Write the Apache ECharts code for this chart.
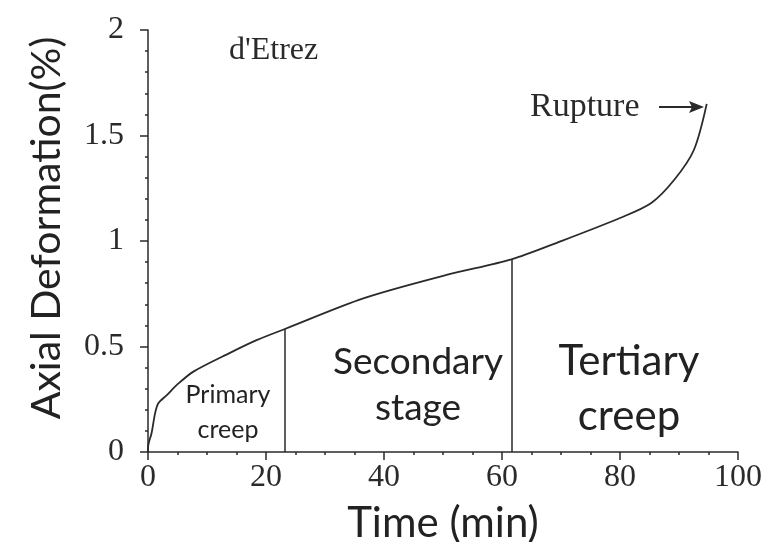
<!DOCTYPE html>
<html>
<head>
<meta charset="utf-8">
<script src="https://cdn.jsdelivr.net/npm/echarts@6/dist/echarts.min.js"></script>
<style>
  html, body { margin: 0; padding: 0; background: #fff; }
  #creep { width: 768px; height: 542px; }
</style>
</head>
<body>
<div id="creep"></div>
<script>
// creep curve
const timeMin = [0, 0.05, 0.6, 1.2, 1.75, 3.2, 4.9, 7.7, 13.9, 18.4, 23.2, 36.5, 50.6, 61.6, 69.8, 80, 85.3, 89.2, 92.5, 94.7]
const deformPct = [0, 0.033, 0.089, 0.183, 0.231, 0.27, 0.318, 0.381, 0.47, 0.53, 0.583, 0.728, 0.839, 0.913, 0.997, 1.109, 1.18, 1.29, 1.43, 1.65]
// stage boundaries (time, height where the divider meets the curve)
const stageTime = [23.2, 61.6]
const stageTop = [0.583, 0.913]
const xTicks = [0, 20, 40, 60, 80, 100]
const yTicks = [0, 0.5, 1, 1.5, 2]

const serif = '"Liberation Serif", "DejaVu Serif", serif'
const sans = 'Lato, "Open Sans", sans-serif'
const ink = '#2a2a2a'

const chart = echarts.init(document.getElementById('creep'))

const axisCommon = {
  axisLine: { show: true, onZero: false, lineStyle: { color: ink, width: 1.5 } },
  axisTick: { show: true, inside: false, length: 8, lineStyle: { color: ink, width: 1.5 } },
  minorTick: { show: true, length: 3, lineStyle: { color: ink, width: 1.5 } },
  splitLine: { show: false },
  minorSplitLine: { show: false }
}

const option = {
  backgroundColor: '#fff',
  animation: false,
  grid: { left: 148, right: 30, top: 30, bottom: 90, outerBoundsMode: 'none', containLabel: false },
  xAxis: {
    type: 'value',
    min: xTicks[0],
    max: xTicks[xTicks.length - 1],
    interval: 20,
    ...axisCommon,
    minorTick: { ...axisCommon.minorTick, splitNumber: 4 },
    axisLabel: { fontFamily: serif, fontSize: 32, color: ink, margin: 10 },
    name: 'Time (min)',
    nameLocation: 'middle',
    nameGap: 50,
    nameTextStyle: { fontFamily: sans, fontSize: 42, color: '#222' }
  },
  yAxis: {
    type: 'value',
    min: yTicks[0],
    max: yTicks[yTicks.length - 1],
    interval: 0.5,
    ...axisCommon,
    minorTick: { ...axisCommon.minorTick, splitNumber: 5 },
    axisLabel: { fontFamily: serif, fontSize: 32, color: ink, margin: 24, padding: [16, 0, 0, 0] },
    name: 'Axial Deformation(%)',
    nameLocation: 'middle',
    nameGap: 81,
    nameTextStyle: { fontFamily: sans, fontSize: 41, color: '#222', padding: [0, 0, 0, 26] }
  },
  series: [
    {
      type: 'line',
      data: timeMin.map((t, i) => [t, deformPct[i]]),
      smooth: 0.3,
      showSymbol: false,
      lineStyle: { color: ink, width: 1.8 },
      markLine: {
        silent: true,
        symbol: 'none',
        label: { show: false },
        lineStyle: { color: ink, width: 1.5, type: 'solid' },
        data: stageTime.map((t, i) => [{ coord: [t, 0] }, { coord: [t, stageTop[i]] }])
      }
    }
  ],
  graphic: [
    { type: 'text', x: 229, y: 51, style: { text: "d'Etrez", font: '32px ' + serif, fill: ink, verticalAlign: 'middle' } },
    { type: 'text', x: 530, y: 107, style: { text: 'Rupture', font: '34px ' + serif, fill: ink, verticalAlign: 'middle' } },
    { type: 'line', shape: { x1: 659, y1: 107, x2: 697, y2: 107 }, style: { stroke: ink, lineWidth: 2 } },
    { type: 'polygon', shape: { points: [[704, 107], [689, 101], [692, 107], [689, 113]] }, style: { fill: ink } },
    { type: 'text', x: 228, y: 412, style: { text: 'Primary\ncreep', font: '25px ' + sans, fill: '#222', align: 'center', verticalAlign: 'middle', lineHeight: 35 } },
    { type: 'text', x: 418, y: 385, style: { text: 'Secondary\nstage', font: '37px ' + sans, fill: '#222', align: 'center', verticalAlign: 'middle', lineHeight: 46 } },
    { type: 'text', x: 629, y: 389, style: { text: 'Tertiary\ncreep', font: '42px ' + sans, fill: '#222', align: 'center', verticalAlign: 'middle', lineHeight: 55 } }
  ]
}

chart.setOption(option)
</script>
</body>
</html>
